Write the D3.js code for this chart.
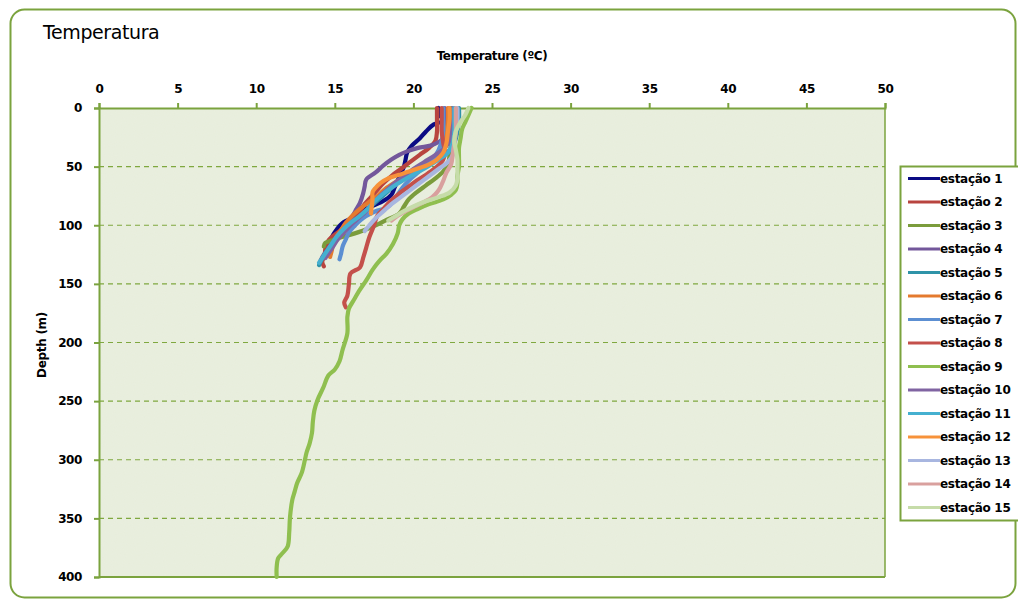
<!DOCTYPE html>
<html>
<head>
<meta charset="utf-8">
<script src="https://cdn.jsdelivr.net/npm/d3@7/dist/d3.min.js"></script>
<style>
  body { margin: 0; background: #ffffff; }
  svg { display: block; }
  text { font-family: "DejaVu Sans", Verdana, sans-serif; fill: #000; }
</style>
</head>
<body>
<svg id="chart" width="1018" height="603"></svg>
<script>
// Temperature ticks (top axis) and depth ticks (left axis)
const tempTicks = [0, 5, 10, 15, 20, 25, 30, 35, 40, 45, 50];
const depthTicks = [0, 50, 100, 150, 200, 250, 300, 350, 400];

// Station names shown in the legend
const stations = ["estação 1", "estação 2", "estação 3", "estação 4", "estação 5",
  "estação 6", "estação 7", "estação 8", "estação 9", "estação 10",
  "estação 11", "estação 12", "estação 13", "estação 14", "estação 15"];

// CTD profiles: [depth (m), temperature (ºC)]
const station1 = [[0,21.6],[6,21.6],[10,22.2],[14,21.3],[20,20.8],[26,20.4],[32,19.9],[38,19.6],[44,19.5],[50,19.4],[56,19.2],[62,19.0],[68,18.8],[74,18.6],[80,18.0],[86,17.0],[92,16.4],[98,15.5],[104,15.1],[108,14.9],[113,14.7],[118,14.5]];
const station2 = [[0,21.5],[10,21.5],[20,21.5],[28,21.4],[34,21.0],[40,20.4],[46,19.8],[52,19.2],[58,18.6],[64,18.1],[70,17.7],[76,17.3],[82,16.9],[88,16.6],[94,16.2],[100,15.8],[105,15.3],[110,14.8],[113,14.6],[116,14.5],[120,14.4],[126,14.35],[131,14.2],[135,14.3]];
const station3 = [[0,22.4],[10,22.4],[20,22.5],[30,22.4],[40,22.3],[48,22.2],[54,21.9],[60,21.4],[66,20.8],[72,20.2],[78,19.7],[84,19.4],[90,19.1],[96,18.2],[100,17.6],[104,16.9],[108,16.0],[111,15.2],[113,14.8],[115,14.4],[118,14.3]];
const station4 = [[0,22.0],[10,22.0],[18,21.9],[26,21.9],[29,21.6],[32,21.1],[34,20.3],[37,19.6],[40,19.1],[44,18.6],[49,18.1],[55,17.6],[61,17.0],[67,16.9],[73,16.8],[81,16.6],[88,16.3],[95,16.0],[102,15.6],[108,15.2],[114,14.9],[120,14.6],[125,14.3],[130,14.1]];
const station5 = [[0,22.9],[10,22.9],[20,22.8],[30,22.6],[36,22.3],[42,21.8],[48,21.0],[54,20.2],[60,19.4],[66,18.8],[72,18.3],[78,17.8],[84,17.3],[90,16.8],[96,16.3],[102,15.8],[108,15.4],[114,15.0],[120,14.6],[126,14.3],[131,14.1],[134,14.0]];
const station6 = [[0,22.2],[10,22.2],[20,22.1],[30,22.0],[38,21.7],[44,21.2],[50,20.5],[56,19.8],[62,19.0],[68,18.3],[74,17.8],[80,17.2],[86,16.6],[92,16.1],[98,15.7],[104,15.4],[110,15.1],[116,14.9],[122,14.8],[127,14.7]];
const station7 = [[0,21.9],[10,21.9],[20,21.9],[28,21.8],[36,21.6],[44,21.2],[50,20.7],[56,20.2],[62,19.7],[68,19.3],[74,19.0],[80,18.7],[85,18.3],[88,17.6],[92,17.0],[96,16.6],[100,16.3],[106,15.9],[112,15.7],[118,15.5],[124,15.4],[129,15.3]];
const station8 = [[0,21.8],[10,21.8],[20,21.8],[30,21.9],[38,22.0],[44,21.9],[50,21.5],[56,20.9],[62,20.2],[68,19.6],[74,19.0],[80,18.5],[86,18.1],[92,17.7],[100,17.5],[110,17.2],[119,17.0],[128,16.8],[136,16.6],[141,16.0],[150,15.9],[160,15.8],[166,15.6],[170,15.7]];
const station9 = [[0,23.7],[6,23.5],[12,23.3],[18,23.1],[26,23.0],[34,22.9],[42,22.9],[50,22.9],[58,22.8],[64,22.8],[70,22.7],[74,22.4],[78,21.9],[82,21.0],[86,20.3],[90,19.7],[95,19.3],[100,19.1],[107,19.0],[116,18.7],[124,18.3],[131,17.8],[138,17.4],[147,17.0],[155,16.6],[164,16.2],[171,15.9],[178,15.8],[192,15.8],[206,15.5],[216,15.3],[223,15.0],[228,14.6],[239,14.25],[249,13.9],[258,13.7],[268,13.6],[277,13.55],[286,13.4],[294,13.2],[300,13.1],[311,12.9],[320,12.6],[327,12.45],[334,12.3],[349,12.15],[362,12.1],[374,12.0],[380,11.65],[384,11.4],[392,11.3],[400,11.3]];
const station10 = [[0,22.5],[10,22.5],[20,22.4],[28,22.3],[34,22.0],[40,21.4],[46,20.7],[52,20.0],[58,19.4],[64,18.8],[70,18.3],[76,17.8],[82,17.4],[88,17.0],[94,16.5],[100,16.0],[106,15.6],[112,15.2],[118,14.9],[124,14.6],[128,14.4]];
const station11 = [[0,22.6],[10,22.6],[20,22.6],[30,22.5],[38,22.2],[44,21.6],[50,20.9],[56,20.1],[62,19.3],[68,18.6],[74,18.0],[80,17.5],[86,17.1],[92,16.6],[98,16.0],[104,15.5],[110,15.1],[116,14.8],[122,14.5],[128,14.2],[132,14.0]];
const station12 = [[0,22.3],[10,22.3],[20,22.2],[30,22.1],[38,21.9],[44,21.5],[48,21.0],[52,20.2],[56,19.3],[60,18.4],[64,17.9],[68,17.6],[72,17.4],[78,17.4],[84,17.35],[90,17.3]];
const station13 = [[0,22.8],[10,22.8],[20,22.7],[30,22.6],[40,22.5],[46,22.2],[52,21.6],[58,21.0],[64,20.4],[70,19.8],[76,19.2],[82,18.6],[88,18.1],[94,17.6],[100,17.2],[105,16.9]];
const station14 = [[0,22.7],[10,22.7],[20,22.7],[30,22.6],[40,22.5],[48,22.4],[55,22.1],[62,21.9],[68,21.7],[72,21.5],[76,21.2],[80,20.7],[84,20.1],[88,19.5],[92,19.0],[96,18.6]];
const station15 = [[0,23.5],[6,23.3],[12,23.0],[20,22.7],[28,22.6],[36,22.7],[44,22.8],[52,22.8],[60,22.8],[66,22.7],[72,22.3],[76,21.6],[80,20.7],[84,20.0],[88,19.4],[92,18.9],[96,18.4]];

const profiles = [station1, station2, station3, station4, station5, station6, station7, station8,
  station9, station10, station11, station12, station13, station14, station15];

// Line colours per station
const palette = ["#0b0b84", "#b8443f", "#7b9c3c", "#73579b", "#2f93a8", "#e47a2e", "#5c8fd2", "#c4504b",
  "#8fbf4f", "#8064a2", "#45b0d0", "#f7923a", "#a8b6e0", "#d9a09e", "#c6dca9"];

const svg = d3.select("#chart");
const green = "#7ba33e";

// outer chart frame
svg.append("rect")
  .attr("x", 10.5).attr("y", 9.5).attr("width", 1005).attr("height", 588)
  .attr("rx", 14).attr("fill", "#fff").attr("stroke", green).attr("stroke-width", 2);

// grain texture for the plot area
const defs = svg.append("defs");
const f = defs.append("filter").attr("id", "grain").attr("x", 0).attr("y", 0).attr("width", 1).attr("height", 1);
f.append("feTurbulence").attr("type", "fractalNoise").attr("baseFrequency", 0.9).attr("numOctaves", 1).attr("seed", 3).attr("result", "n");
f.append("feColorMatrix").attr("in", "n").attr("type", "matrix")
  .attr("values", "0 0 0 0 0.86  0 0 0 0 0.9  0 0 0 0 0.82  0 0 0 0.3 0").attr("result", "c");
f.append("feComposite").attr("in", "c").attr("in2", "SourceGraphic").attr("operator", "in");

const plot = { left: 99, right: 885, top: 108, bottom: 577 };
const x = d3.scaleLinear().domain([0, 50]).range([plot.left, plot.right]);
const y = d3.scaleLinear().domain([0, 400]).range([plot.top, plot.bottom]);

// plot background
svg.append("rect")
  .attr("x", plot.left).attr("y", plot.top)
  .attr("width", plot.right - plot.left).attr("height", plot.bottom - plot.top)
  .attr("fill", "#e7eddb");
svg.append("rect")
  .attr("x", plot.left).attr("y", plot.top)
  .attr("width", plot.right - plot.left).attr("height", plot.bottom - plot.top)
  .attr("fill", "#e7eddb").attr("filter", "url(#grain)");

// horizontal dashed gridlines
svg.append("g").selectAll("line")
  .data(depthTicks.filter(d => d > 0 && d < 400))
  .join("line")
  .attr("x1", plot.left).attr("x2", plot.right)
  .attr("y1", d => y(d)).attr("y2", d => y(d))
  .attr("stroke", "#7fa83f").attr("stroke-width", 1.2).attr("stroke-dasharray", "5,4");

// right border of plot area
svg.append("line")
  .attr("x1", plot.right).attr("x2", plot.right)
  .attr("y1", plot.top).attr("y2", plot.bottom)
  .attr("stroke", green).attr("stroke-width", 1.5);

// top temperature axis
const xAxis = svg.append("g")
  .attr("transform", `translate(0,${plot.top})`)
  .call(d3.axisTop(x).tickValues(tempTicks).tickSize(5).tickPadding(10));
// left depth axis
const yAxis = svg.append("g")
  .attr("transform", `translate(${plot.left},0)`)
  .call(d3.axisLeft(y).tickValues(depthTicks).tickSize(5).tickPadding(12));
// bottom border
svg.append("line")
  .attr("x1", plot.left).attr("x2", plot.right)
  .attr("y1", plot.bottom).attr("y2", plot.bottom)
  .attr("stroke", green).attr("stroke-width", 2);

[xAxis, yAxis].forEach(a => {
  a.select(".domain").attr("stroke", green).attr("stroke-width", 2);
  a.selectAll(".tick line").attr("stroke", green).attr("stroke-width", 2);
  a.selectAll(".tick text")
    .attr("font-family", "'DejaVu Sans', sans-serif")
    .attr("font-size", 12).attr("font-weight", "bold")
    .attr("letter-spacing", "-0.4px").attr("fill", "#000");
});

// temperature profiles
const line = d3.line()
  .x(d => x(d[1]))
  .y(d => y(d[0]))
  .curve(d3.curveCatmullRom.alpha(0.5));

svg.append("g").selectAll("path")
  .data(profiles)
  .join("path")
  .attr("d", line)
  .attr("fill", "none")
  .attr("stroke", (d, i) => palette[i])
  .attr("stroke-width", 4.2)
  .attr("stroke-linejoin", "round")
  .attr("stroke-linecap", "round");

// titles
svg.append("text")
  .attr("x", 43).attr("y", 39)
  .attr("font-size", 19).attr("letter-spacing", "-0.4px")
  .text("Temperatura");

svg.append("text")
  .attr("x", 492).attr("y", 60).attr("text-anchor", "middle")
  .attr("font-size", 12).attr("font-weight", "bold").attr("letter-spacing", "-0.4px")
  .text("Temperature (ºC)");

svg.append("text")
  .attr("transform", "translate(46,345) rotate(-90)")
  .attr("text-anchor", "middle")
  .attr("font-size", 12).attr("font-weight", "bold").attr("letter-spacing", "-0.3px")
  .text("Depth (m)");

// legend
const legend = svg.append("g");
legend.append("rect")
  .attr("x", 900.5).attr("y", 166.5).attr("width", 130).attr("height", 354)
  .attr("fill", "#fff").attr("stroke", green).attr("stroke-width", 2);

const ly = d3.scalePoint().domain(stations).range([178.5, 507.5]);
const items = legend.selectAll("g.item")
  .data(stations)
  .join("g")
  .attr("class", "item")
  .attr("transform", d => `translate(0,${ly(d)})`);
items.append("line")
  .attr("x1", 908).attr("x2", 940)
  .attr("stroke", (d, i) => palette[i]).attr("stroke-width", 3);
items.append("text")
  .attr("x", 940).attr("dy", "0.36em")
  .attr("font-size", 12).attr("font-weight", "bold").attr("letter-spacing", "-0.3px")
  .text(d => d);
</script>
</body>
</html>
